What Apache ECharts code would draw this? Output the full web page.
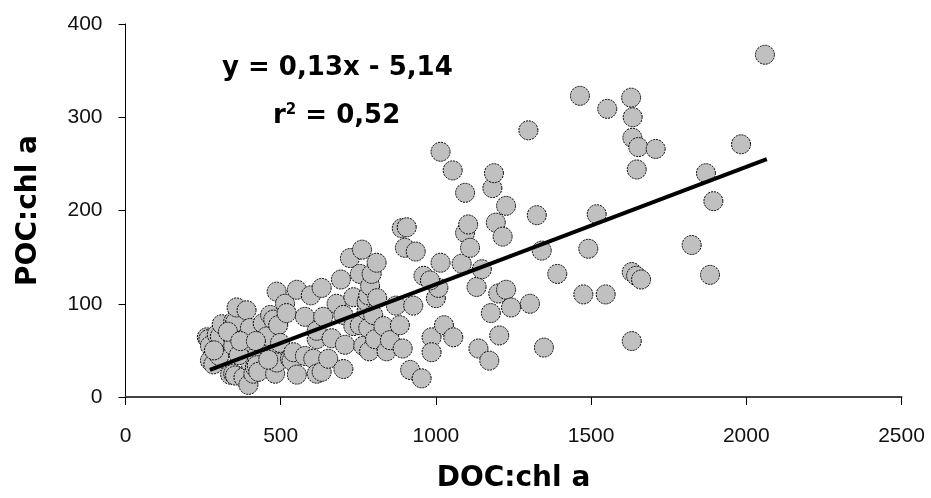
<!DOCTYPE html>
<html>
<head>
<meta charset="utf-8">
<script src="https://cdn.jsdelivr.net/npm/echarts@6/dist/echarts.min.js"></script>
<style>
html,body{margin:0;padding:0;background:#fff;}
#c{width:931px;height:498px;}
</style>
</head>
<body>
<div id="c"></div>
<script>
// ---- data ----
var xTicks = [0, 500, 1000, 1500, 2000, 2500];
var yTicks = [0, 100, 200, 300, 400];
var docValues = [
 262,267,272,272,283,294,302,304,310,337,347,347,347,347,353,353,358,390,380,396,396,401,401,407,412,417,423,423,428,442,449,455,466,476,476,482,487,487,492,498,
 285,330,365,370,420,460,
 514,519,530,535,541,552,552,578,578,597,605,616,616,616,632,632,637,653,664,680,694,702,702,707,723,734,734,755,755,762,766,777,777,782,782,785,788,793,798,804,809,811,831,841,852,871,884,890,893,900,906,935,917,927,954,960,
 986,986,1000,1008,981,1015,1015,1026,1054,1056,1083,1094,1094,1104,1110,1131,1137,1148,1172,1177,1182,1187,1193,1201,1204,1215,1226,1226,1242,1298,1303,1325,1341,1348,1391,
 1464,1475,1491,1518,1547,1552,1629,1631,1631,1633,1634,1645,1647,1652,1661,1708,1824,1870,1883,1894,1983,2060
];
var pocValues = [
 64,62,55,39,35,67,44,65,78,24,81,62,55,25,80,23,96,93,21,13,53,74,37,53,25,32,44,34,27,79,56,65,88,83,46,25,113,37,77,58,
 50,70,45,60,60,40,
 100,90,41,39,48,115,24,86,44,109,41,62,71,25,117,27,86,41,63,100,126,88,30,56,149,107,76,132,77,158,55,93,102,109,74,49,119,132,88,62,144,106,76,49,61,98,77,181,52,160,182,156,29,98,20,130,
 64,48,106,117,125,263,144,77,243,64,143,219,176,185,160,118,52,137,39,90,224,240,187,111,66,172,205,115,96,286,100,195,157,53,132,
 323,110,159,196,110,309,321,134,60,278,300,130,244,268,126,266,163,240,131,210,271,367
];
var trendX = [272, 2066];
var trendY = [29, 255];
var equationText = 'y = 0,13x - 5,14';
var r2Value = '0,52';
var xTitle = 'DOC:chl a';
var yTitle = 'POC:chl a';

var points = docValues.map(function (x, i) { return [x, pocValues[i]]; });
var trend = trendX.map(function (x, i) { return [x, trendY[i]]; });

var labelFont = '"Liberation Sans", Arial, sans-serif';
var boldFont = '"DejaVu Sans", sans-serif';

var chart = echarts.init(document.getElementById('c'));
chart.setOption({
  animation: false,
  backgroundColor: '#ffffff',
  grid: { left: 125.5, right: 29.5, top: 24, bottom: 92.5, containLabel: false },
  xAxis: {
    type: 'value', min: xTicks[0], max: xTicks[xTicks.length - 1], interval: 500,
    splitLine: { show: false },
    axisLine: { lineStyle: { color: '#444', width: 2 } },
    axisTick: { inside: false, length: 8, lineStyle: { color: '#000', width: 1 } },
    axisLabel: { margin: 29, color: '#111', fontSize: 21, fontFamily: labelFont,
      formatter: function (v) { return String(v); } },
    name: xTitle, nameLocation: 'middle', nameGap: 68,
    nameTextStyle: { fontSize: 28, fontWeight: 'bold', color: '#000', fontFamily: boldFont }
  },
  yAxis: {
    type: 'value', min: yTicks[0], max: yTicks[yTicks.length - 1], interval: 100,
    splitLine: { show: false },
    axisLine: { lineStyle: { color: '#000', width: 1 } },
    axisTick: { inside: false, length: 7, lineStyle: { color: '#000', width: 1 } },
    axisLabel: { margin: 23, color: '#111', fontSize: 21, fontFamily: labelFont,
      formatter: function (v) { return String(v); } },
    name: yTitle, nameLocation: 'middle', nameGap: 83, nameRotate: 90,
    nameTextStyle: { fontSize: 28, fontWeight: 'bold', color: '#000', fontFamily: boldFont }
  },
  series: [
    {
      type: 'scatter', data: points, symbol: 'circle', symbolSize: 19,
      itemStyle: { color: '#c0c0c0', borderColor: '#000', borderWidth: 1, borderType: [2, 1], opacity: 1 },
      z: 2
    },
    {
      type: 'line', data: trend, symbol: 'none',
      lineStyle: { color: '#000', width: 4 }, z: 3
    }
  ],
  graphic: [
    {
      type: 'text', left: 222, top: 55,
      style: { text: equationText, font: 'bold 26px ' + boldFont, fill: '#000' }
    },
    {
      type: 'text', left: 273, top: 103,
      style: {
        text: '{r|r}{s|2}{r| = ' + r2Value + '}',
        rich: {
          r: { fontSize: 26, fontWeight: 'bold', fontFamily: boldFont, color: '#000' },
          s: { fontSize: 15, fontWeight: 'bold', fontFamily: boldFont, color: '#000', verticalAlign: 'top', padding: [0, 0, 12, 0] }
        }
      }
    }
  ]
});
</script>
</body>
</html>
